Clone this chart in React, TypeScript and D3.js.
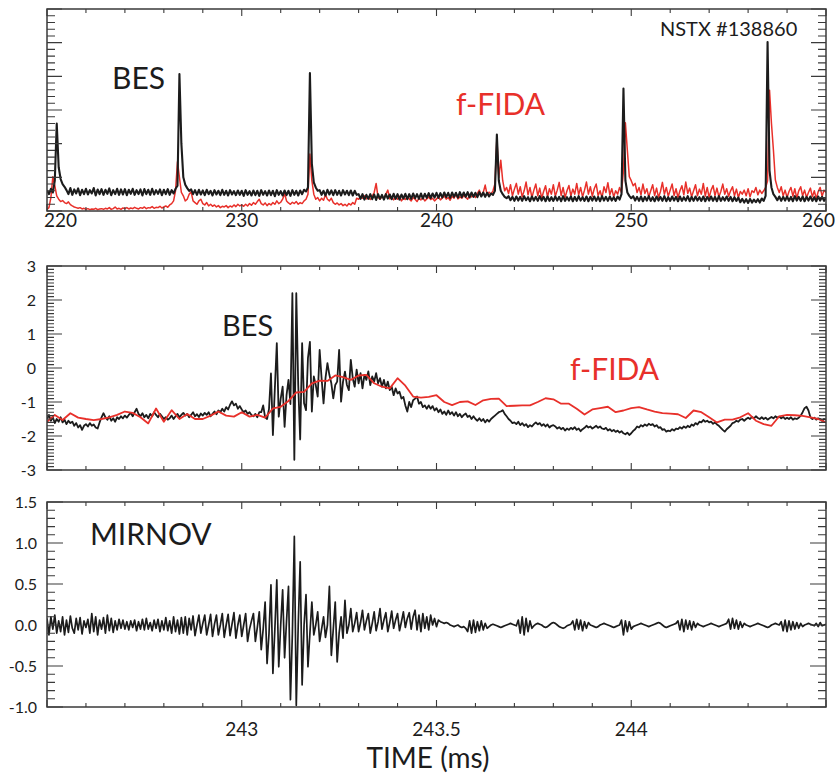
import React from 'react';
import * as d3 from 'd3';

const W = 835;
const H = 780;
const FONT = 'Lato, "Open Sans", "DejaVu Sans", sans-serif';
const RED = '#e8302a';
const INK = '#1c1c1c';
const AXIS = '#3a3a3a';

// ---------- Top panel: full shot, 220–260 ms, sampled every 0.1 ms ----------
const TOP_T0 = 220;
const TOP_DT = 0.1;
const topXTicks = [220, 230, 240, 250, 260];
const topBES = [
  0.62,0.5,0.66,0.55,0.9,2.6,1.3,0.95,0.8,0.72,0.62,0.5,0.68,0.48,0.64,0.52,0.67,0.47,0.63,0.5,
  0.66,0.49,0.62,0.52,0.68,0.46,0.64,0.5,0.65,0.48,0.63,0.51,0.67,0.47,0.62,0.5,0.66,0.48,0.64,0.49,
  0.65,0.47,0.63,0.51,0.66,0.48,0.62,0.5,0.64,0.46,0.65,0.5,0.63,0.48,0.66,0.49,0.62,0.51,0.64,0.47,
  0.63,0.5,0.65,0.48,0.62,0.52,0.66,0.75,4.07,2.0,1.0,0.78,0.68,0.6,0.64,0.5,0.62,0.48,0.63,0.49,
  0.61,0.47,0.63,0.5,0.6,0.46,0.62,0.49,0.6,0.47,0.63,0.48,0.6,0.46,0.62,0.49,0.59,0.47,0.61,0.48,
  0.6,0.45,0.62,0.48,0.59,0.46,0.61,0.47,0.6,0.45,0.62,0.48,0.59,0.46,0.61,0.47,0.6,0.44,0.62,0.48,
  0.59,0.46,0.61,0.47,0.6,0.45,0.62,0.48,0.6,0.46,0.61,0.5,0.63,0.58,0.7,4.1,1.4,0.85,0.7,0.6,
  0.62,0.48,0.6,0.46,0.63,0.49,0.61,0.47,0.62,0.48,0.6,0.46,0.62,0.49,0.6,0.47,0.61,0.46,0.6,0.48,
  0.5,0.36,0.5,0.34,0.48,0.36,0.5,0.35,0.49,0.33,0.5,0.36,0.48,0.34,0.5,0.37,0.49,0.35,0.51,0.36,
  0.5,0.34,0.49,0.37,0.51,0.35,0.5,0.36,0.52,0.38,0.5,0.36,0.52,0.37,0.51,0.39,0.53,0.38,0.52,0.4,
  0.54,0.39,0.53,0.4,0.55,0.41,0.54,0.39,0.55,0.42,0.54,0.4,0.56,0.41,0.55,0.42,0.56,0.4,0.55,0.42,
  0.54,0.41,0.56,0.43,0.55,0.42,0.54,0.43,0.52,0.48,0.6,2.27,0.9,0.6,0.5,0.42,0.38,0.44,0.32,0.42,
  0.3,0.43,0.31,0.42,0.3,0.44,0.32,0.41,0.29,0.43,0.31,0.42,0.3,0.44,0.31,0.42,0.29,0.43,0.3,0.41,
  0.3,0.43,0.31,0.42,0.29,0.44,0.3,0.41,0.31,0.43,0.29,0.42,0.3,0.44,0.31,0.41,0.3,0.43,0.29,0.42,
  0.31,0.43,0.3,0.42,0.29,0.44,0.31,0.42,0.3,0.43,0.31,0.41,0.3,0.43,0.34,0.5,3.64,0.9,0.55,0.45,
  0.38,0.44,0.31,0.42,0.3,0.43,0.29,0.42,0.31,0.44,0.3,0.41,0.29,0.43,0.31,0.42,0.3,0.44,0.29,0.41,
  0.3,0.43,0.31,0.42,0.29,0.43,0.3,0.41,0.31,0.44,0.29,0.42,0.3,0.43,0.31,0.41,0.3,0.43,0.29,0.42,
  0.31,0.43,0.3,0.42,0.29,0.44,0.3,0.41,0.31,0.43,0.3,0.42,0.29,0.41,0.3,0.4,0.26,0.36,0.25,0.35,
  0.24,0.36,0.25,0.34,0.26,0.35,0.25,0.37,0.3,0.45,5.02,1.2,0.7,0.5,0.42,0.32,0.43,0.3,0.42,0.31,
  0.43,0.3,0.42,0.29,0.44,0.31,0.42,0.3,0.43,0.29,0.42,0.31,0.43,0.3,0.41,0.29,0.43,0.31,0.42,0.3,
  0.4,
];
const topFIDA = [
  0.05,0.1,0.4,1.02,0.75,0.45,0.35,0.28,0.31,0.25,0.22,0.27,0.19,0.15,0.12,0.1,0.08,0.1,0.06,0.08,
  0.05,0.07,0.04,0.06,0.05,0.08,0.04,0.06,0.07,0.05,0.08,0.06,0.1,0.05,0.07,0.12,0.06,0.08,0.05,0.09,
  0.07,0.1,0.06,0.09,0.07,0.11,0.08,0.06,0.1,0.08,0.12,0.07,0.1,0.09,0.13,0.08,0.11,0.1,0.14,0.09,
  0.12,0.15,0.11,0.18,0.22,0.3,0.6,1.46,1.0,0.55,0.45,0.3,0.35,0.5,0.57,0.3,0.25,0.2,0.3,0.35,
  0.22,0.18,0.25,0.15,0.2,0.14,0.18,0.12,0.16,0.1,0.14,0.12,0.16,0.1,0.15,0.12,0.18,0.13,0.2,0.15,
  0.18,0.14,0.2,0.15,0.22,0.17,0.25,0.2,0.28,0.35,0.22,0.18,0.24,0.16,0.22,0.18,0.25,0.2,0.3,0.22,
  0.26,0.35,0.52,0.3,0.24,0.2,0.26,0.22,0.28,0.2,0.25,0.22,0.3,0.35,0.5,1.69,0.9,0.5,0.35,0.4,
  0.3,0.38,0.32,0.48,0.35,0.3,0.38,0.25,0.2,0.24,0.18,0.22,0.16,0.2,0.15,0.22,0.18,0.25,0.2,0.38,
  0.35,0.42,0.38,0.45,0.36,0.4,0.34,0.44,0.55,0.82,0.4,0.35,0.42,0.38,0.5,0.62,0.36,0.42,0.33,0.4,
  0.35,0.44,0.3,0.38,0.34,0.42,0.36,0.3,0.4,0.35,0.28,0.38,0.33,0.4,0.3,0.36,0.42,0.34,0.38,0.3,
  0.36,0.42,0.33,0.39,0.45,0.35,0.4,0.32,0.44,0.38,0.5,0.36,0.42,0.38,0.46,0.4,0.35,0.5,0.42,0.48,
  0.4,0.52,0.62,0.45,0.55,0.77,0.48,0.56,0.5,0.6,0.8,2.16,1.0,1.51,0.9,0.6,0.7,0.52,0.78,0.45,
  0.65,0.82,0.5,0.72,0.42,0.6,0.86,0.48,0.7,0.4,0.62,0.8,0.45,0.68,0.38,0.58,0.75,0.42,0.66,0.5,
  0.78,0.44,0.62,0.85,0.46,0.7,0.4,0.6,0.76,0.45,0.65,0.5,0.82,0.48,0.7,0.42,0.62,0.86,0.5,0.72,
  0.44,0.66,0.8,0.46,0.6,0.4,0.72,0.55,0.84,0.48,0.66,0.42,0.6,0.5,0.7,0.55,1.2,2.62,1.8,1.02,
  0.9,0.75,0.82,0.55,0.7,0.48,0.8,0.52,0.66,0.42,0.6,0.78,0.46,0.68,0.4,0.58,0.85,0.5,0.7,0.44,
  0.62,0.8,0.46,0.66,0.4,0.6,0.75,0.48,0.86,0.52,0.68,0.42,0.6,0.78,0.45,0.65,0.5,0.82,0.44,0.7,
  0.4,0.62,0.76,0.46,0.68,0.42,0.58,0.8,0.5,0.66,0.44,0.6,0.72,0.45,0.65,0.4,0.58,0.5,0.62,0.45,
  0.66,0.42,0.6,0.55,0.7,0.48,0.62,0.52,0.6,0.7,0.9,3.59,2.6,1.81,0.92,0.7,0.55,0.72,0.45,0.62,
  0.4,0.58,0.7,0.44,0.66,0.38,0.6,0.72,0.45,0.62,0.4,0.55,0.68,0.42,0.6,0.36,0.58,0.7,0.44,0.62,
  0.55,
];

// ---------- Zoomed panels: 242.5–244.5 ms ----------
const ZOOM_T0 = 242.5;
const ZOOM_DT = 0.005;
const FIDA_DT = 0.02;
const zoomXTicks = [243, 243.5, 244];
const midYTicks = [3, 2, 1, 0, -1, -2, -3];
const botYTicks = [1.5, 1.0, 0.5, 0.0, -0.5, -1.0];

const midBES = [
  -1.5,-1.38,-1.55,-1.45,-1.62,-1.5,-1.58,-1.45,-1.6,-1.52,
  -1.65,-1.55,-1.62,-1.58,-1.7,-1.62,-1.75,-1.68,-1.82,-1.7,
  -1.65,-1.72,-1.62,-1.7,-1.66,-1.75,-1.78,-1.6,-1.45,-1.33,
  -1.45,-1.52,-1.42,-1.55,-1.48,-1.58,-1.45,-1.5,-1.42,-1.48,
  -1.4,-1.46,-1.38,-1.32,-1.42,-1.3,-1.2,-1.35,-1.42,-1.33,
  -1.45,-1.38,-1.48,-1.35,-1.42,-1.3,-1.38,-1.45,-1.35,-1.42,
  -1.5,-1.45,-1.52,-1.48,-1.4,-1.5,-1.42,-1.35,-1.45,-1.38,
  -1.32,-1.4,-1.35,-1.45,-1.38,-1.3,-1.42,-1.36,-1.44,-1.34,
  -1.4,-1.32,-1.38,-1.3,-1.42,-1.35,-1.28,-1.36,-1.25,-1.3,
  -1.2,-1.28,-1.15,-1.22,-1.08,-0.98,-1.1,-1.05,-1.2,-1.12,
  -1.22,-1.3,-1.25,-1.35,-1.3,-1.38,-1.42,-1.35,-1.45,-1.3,
  -1.3,-1.1,-1.45,-1.5,-1.2,-0.16,-1.97,-0.6,0.73,-1.43,
  -0.9,-0.55,-1.73,-0.8,-0.35,-1.06,2.2,-2.7,2.2,-0.5,
  -2.1,0.73,-1.04,-1.24,0.3,0.77,-1.28,-0.25,-0.5,-0.84,
  0.53,-0.3,-1.04,-0.3,0.14,-0.2,-0.45,-0.89,-0.5,-0.4,
  0.53,-0.99,-0.4,-0.11,-0.5,-0.65,0.24,-0.3,-0.55,
  -0.05,-0.45,-0.15,-0.6,-0.2,-0.35,-0.1,-0.5,-0.25,-0.4,-0.15,-0.45,
  -0.3,-0.55,-0.35,-0.6,-0.4,-0.65,-0.55,-0.8,-0.6,-0.75,-0.7,-0.9,
  -0.85,-1.1,-1.28,-1.0,-1.15,-0.95,-0.9,-0.84,-1.05,-1.0,-1.15,-1.1,-1.2,
  -1.1,-1.2,-1.12,-1.25,-1.18,-1.3,-1.22,-1.35,-1.28,-1.38,-1.25,-1.36,-1.3,-1.4,-1.3,-1.42,-1.35,-1.45,-1.38,-1.34,-1.44,-1.4,-1.5,-1.42,-1.5,
  -1.55,-1.48,-1.56,-1.5,-1.6,-1.52,-1.58,-1.5,-1.45,-1.4,-1.35,-1.3,-1.28,-1.24,-1.35,-1.42,-1.5,-1.55,-1.62,-1.6,
  -1.65,-1.58,-1.68,-1.62,-1.7,-1.65,-1.74,-1.68,-1.72,-1.65,-1.6,-1.66,-1.62,-1.7,-1.65,-1.72,-1.66,-1.75,-1.7,-1.68,
  -1.72,-1.78,-1.74,-1.8,-1.76,-1.84,-1.78,-1.82,-1.76,-1.8,-1.74,-1.82,-1.78,-1.86,-1.8,-1.76,-1.7,-1.75,-1.72,-1.78,
  -1.74,-1.7,-1.76,-1.72,-1.78,-1.8,-1.76,-1.84,-1.8,-1.86,-1.82,-1.88,-1.84,-1.9,-1.86,-1.92,-1.95,-1.9,-1.97,-1.92,
  -1.85,-1.8,-1.72,-1.75,-1.68,-1.72,-1.66,-1.7,-1.64,-1.68,-1.65,-1.72,-1.68,-1.76,-1.74,-1.82,-1.8,-1.87,-1.84,-1.86,
  -1.8,-1.84,-1.78,-1.8,-1.74,-1.78,-1.72,-1.76,-1.7,-1.74,-1.66,-1.7,-1.62,-1.66,-1.58,-1.6,-1.53,-1.58,-1.55,-1.6,
  -1.58,-1.64,-1.6,-1.66,-1.7,-1.76,-1.82,-1.87,-1.8,-1.75,-1.7,-1.62,-1.6,-1.55,-1.58,-1.52,-1.5,-1.55,-1.5,-1.46,
  -1.5,-1.44,-1.48,-1.42,-1.47,-1.5,-1.45,-1.5,-1.46,-1.52,-1.48,-1.44,-1.48,-1.42,-1.46,-1.43,-1.48,-1.44,-1.5,-1.46,
  -1.5,-1.45,-1.52,-1.48,-1.5,-1.46,-1.4,-1.3,-1.18,-1.14,-1.25,-1.45,-1.5,-1.46,-1.52,-1.48,-1.5,-1.55,-1.5,-1.52,
];

const midFIDA = [
  -1.58,-1.38,-1.53,-1.33,-1.46,-1.5,-1.53,-1.5,-1.45,-1.38,
  -1.28,-1.32,-1.45,-1.63,-1.19,-1.58,-1.24,-1.5,-1.35,-1.5,
  -1.5,-1.4,-1.28,-1.4,-1.43,-1.3,-1.43,-1.38,-1.46,-1.19,
  -1.14,-0.97,-0.72,-0.7,-0.45,-0.37,-0.38,-0.22,-0.27,-0.35,
  -0.22,-0.2,-0.45,-0.55,-0.6,-0.3,-0.52,-0.84,-0.87,-0.85,
  -0.8,-1.0,-1.09,-1.0,-0.98,-1.09,-0.95,-0.91,-0.9,-1.12,
  -1.11,-1.1,-1.1,-1.0,-0.89,-0.92,-1.05,-1.05,-1.2,-1.37,
  -1.22,-1.18,-1.14,-1.3,-1.25,-1.18,-1.15,-1.22,-1.28,-1.33,
  -1.34,-1.36,-1.47,-1.25,-1.3,-1.45,-1.6,-1.52,-1.52,-1.45,
  -1.33,-1.55,-1.65,-1.7,-1.42,-1.38,-1.39,-1.41,-1.45,-1.5,
  -1.6,
];

const mirnov = [
  0.08,-0.12,0.1,-0.05,0.12,-0.1,0.05,-0.08,0.1,-0.12,
  0.06,-0.09,0.11,-0.04,-0.1,0.08,-0.06,0.09,-0.11,0.05,
  -0.03,0.07,-0.1,0.14,-0.08,0.1,-0.12,0.06,-0.05,0.09,
  -0.1,0.12,-0.07,0.08,-0.09,0.05,-0.06,0.07,-0.04,0.06,
  -0.05,0.04,-0.06,0.05,-0.03,0.06,-0.07,0.04,-0.05,0.07,
  -0.06,0.08,-0.05,0.03,-0.07,0.06,-0.04,0.07,-0.08,0.05,
  -0.06,0.09,-0.07,0.05,-0.1,0.1,-0.08,0.06,-0.11,0.09,
  -0.1,0.1,-0.12,0.08,-0.06,
  0.11,-0.13,0.0, 0.12,-0.1,0.02, 0.12,-0.12,0.0, 0.13,-0.14,0.01,
  0.12,-0.12,0.0, 0.14,-0.15,0.0, 0.13,-0.13,0.01, 0.15,-0.16,0.0,
  0.12,-0.14,0.0, 0.14,-0.2,-0.05,0.05,
  0.14,-0.2,-0.03, 0.16,-0.3,-0.05, 0.28,-0.47,-0.1, 0.49,-0.59,-0.05,
  0.55,-0.51,0.0, 0.43,-0.4,0.05, 0.47,-0.91,-0.1, 1.08,-0.98,0.0,
  0.77,-0.73,0.0, 0.37,-0.51,-0.1, 0.28,-0.12,0.0, 0.16,-0.2,-0.05,
  0.1,-0.15,0.0, 0.47,-0.37,-0.05, 0.28,-0.45,-0.1,
  0.1,-0.16,0.3,-0.1,0.0, 0.2,-0.08,0.02,
  0.15,-0.08,0.03, 0.18,-0.06,0.05, 0.14,-0.1,0.02, 0.16,-0.07,0.04,
  0.2,-0.05,0.06, 0.15,-0.08,0.03, 0.17,-0.04,0.06, 0.14,-0.07,0.04,
  0.16,-0.03,0.08, 0.15,-0.05,0.1, 0.18,-0.06,0.12,
  -0.08,0.14,-0.04,0.1,-0.06,0.12,0.0,0.08,-0.02,0.06,
  0.04,0.03,0.02,0.03,0.02,0.0,-0.01,-0.02,-0.01,0.0,-0.02,-0.03,-0.02,-0.04,
  -0.08,0.05,-0.1,0.06,-0.09,0.04,-0.07,0.05,-0.06,0.02,-0.04,
  -0.02,0.0,0.01,0.0,-0.01,-0.02,-0.03,-0.02,-0.01,0.0,0.01,0.02,0.01,0.0,-0.01,
  0.06,-0.1,0.1,-0.12,0.08,-0.08,0.05,-0.04,
  -0.01,0.01,0.02,0.01,0.0,-0.02,-0.03,-0.02,0.0,0.02,0.03,0.02,0.0,-0.02,-0.03,-0.04,-0.03,-0.01,0.0,0.01,
  0.05,-0.06,0.07,-0.05,0.06,-0.07,0.04,-0.04,0.03,
  0.0,-0.01,-0.02,-0.03,-0.02,0.0,0.01,0.02,0.01,0.0,-0.01,-0.02,-0.03,-0.02,-0.01,0.0,
  0.06,-0.12,0.05,-0.08,0.04,-0.05,
  -0.02,-0.01,0.0,0.01,0.02,0.01,0.0,-0.01,-0.02,-0.01,0.0,0.01,0.02,0.03,0.02,0.0,-0.02,-0.03,-0.02,-0.01,0.0,0.01,0.02,
  0.05,-0.06,0.07,-0.08,0.06,-0.05,0.05,-0.06,0.04,-0.03,0.02,
  0.0,-0.01,-0.02,-0.01,0.0,0.01,0.02,0.01,0.0,-0.01,-0.02,-0.01,0.0,0.01,0.02,
  0.07,-0.05,0.08,-0.04,0.06,-0.05,0.04,-0.03,0.02,
  0.0,-0.01,-0.02,-0.01,0.0,0.01,0.02,0.01,0.0,-0.01,-0.02,-0.03,-0.02,0.0,0.01,0.02,0.01,0.0,
  0.04,-0.07,0.06,-0.08,0.05,-0.06,0.04,-0.05,0.03,-0.04,0.02,-0.02,
  0.0,0.01,0.02,0.01,0.0,-0.01,0.02,-0.02,0.03,-0.01,0.0,0.01,
];

// ---------- layout ----------
const X0 = 47;
const X1 = 826;
const panels = {
  top: { y0: 9, y1: 211 },
  mid: { y0: 266, y1: 470 },
  bot: { y0: 502, y1: 707 },
};

type TickSpec = { major: number[]; minor: number[]; majorLen: number; minorLen: number };

function Frame({ x, y, xt, yt }: { x: d3.ScaleLinear<number, number>; y: d3.ScaleLinear<number, number>; xt: TickSpec; yt: TickSpec }) {
  const [xa, xb] = x.range();
  const [yb, ya] = y.range();
  const segs: string[] = [];
  xt.minor.forEach((v) => {
    const px = x(v);
    segs.push(`M${px},${ya}v${xt.minorLen}M${px},${yb}v${-xt.minorLen}`);
  });
  xt.major.forEach((v) => {
    const px = x(v);
    segs.push(`M${px},${ya}v${xt.majorLen}M${px},${yb}v${-xt.majorLen}`);
  });
  yt.minor.forEach((v) => {
    const py = y(v);
    segs.push(`M${xa},${py}h${yt.minorLen}M${xb},${py}h${-yt.minorLen}`);
  });
  yt.major.forEach((v) => {
    const py = y(v);
    segs.push(`M${xa},${py}h${yt.majorLen}M${xb},${py}h${-yt.majorLen}`);
  });
  return (
    <g>
      <path d={segs.join('')} stroke={AXIS} strokeWidth={1.1} fill="none" />
      <rect x={xa} y={ya} width={xb - xa} height={yb - ya} fill="none" stroke={AXIS} strokeWidth={1.5} />
    </g>
  );
}

export default function App() {
  const xTop = d3.scaleLinear().domain([220, 260]).range([X0, X1]);
  const yTop = d3.scaleLinear().domain([0, 6]).range([panels.top.y1, panels.top.y0]);
  const xZoom = d3.scaleLinear().domain([242.5, 244.5]).range([X0, X1]);
  const yMid = d3.scaleLinear().domain([-3, 3]).range([panels.mid.y1, panels.mid.y0]);
  const yBot = d3.scaleLinear().domain([-1, 1.5]).range([panels.bot.y1, panels.bot.y0]);

  const topLine = (arr: number[]) =>
    d3.line<number>().x((_, i) => xTop(TOP_T0 + i * TOP_DT)).y((d) => yTop(d))(arr) || '';
  const zoomLine = (arr: number[], dt: number, ys: d3.ScaleLinear<number, number>) =>
    d3.line<number>().x((_, i) => xZoom(ZOOM_T0 + i * dt)).y((d) => ys(d))(arr) || '';

  const topXT: TickSpec = { major: xTop.ticks(4), minor: xTop.ticks(20), majorLen: 7, minorLen: 4 };
  const topYT: TickSpec = { major: yTop.ticks(6), minor: yTop.ticks(30), majorLen: 15, minorLen: 8 };
  const zoomXT: TickSpec = { major: xZoom.ticks(4), minor: xZoom.ticks(20), majorLen: 7, minorLen: 4 };
  const midYT: TickSpec = { major: yMid.ticks(6), minor: yMid.ticks(60), majorLen: 15, minorLen: 7 };
  const botYT: TickSpec = { major: yBot.ticks(5), minor: yBot.ticks(25), majorLen: 16, minorLen: 8 };

  return (
    <svg width={W} height={H} style={{ position: 'absolute', left: 0, top: 0, background: '#fff' }} fontFamily={FONT}>
      <defs>
        <clipPath id="cTop"><rect x={X0} y={panels.top.y0} width={X1 - X0} height={panels.top.y1 - panels.top.y0} /></clipPath>
        <clipPath id="cMid"><rect x={X0} y={panels.mid.y0} width={X1 - X0} height={panels.mid.y1 - panels.mid.y0} /></clipPath>
        <clipPath id="cBot"><rect x={X0} y={panels.bot.y0} width={X1 - X0} height={panels.bot.y1 - panels.bot.y0} /></clipPath>
      </defs>
      <rect x={0} y={0} width={W} height={H} fill="#fff" />

      {/* top panel */}
      <g clipPath="url(#cTop)">
        <path d={topLine(topFIDA)} fill="none" stroke={RED} strokeWidth={1.5} strokeLinejoin="round" />
        <path d={topLine(topBES)} fill="none" stroke={INK} strokeWidth={2.1} strokeLinejoin="round" />
      </g>
      <Frame x={xTop} y={yTop} xt={topXT} yt={topYT} />
      {topXTicks.map((t, i) => (
        <text key={t} x={i === 0 ? X0 - 3 : i === topXTicks.length - 1 ? W : xTop(t)} y={227} fontSize={19}
          textAnchor={i === 0 ? 'start' : i === topXTicks.length - 1 ? 'end' : 'middle'} fill={INK}>{t}</text>
      ))}
      <text x={112} y={89} fontSize={30} fill={INK}>BES</text>
      <text x={456} y={115} fontSize={30} fill={RED}>f-FIDA</text>
      <text x={660} y={36} fontSize={20} fill={INK}>NSTX #138860</text>

      {/* middle panel */}
      <g clipPath="url(#cMid)">
        <path d={zoomLine(midBES, ZOOM_DT, yMid)} fill="none" stroke={INK} strokeWidth={1.8} strokeLinejoin="round" />
        <path d={zoomLine(midFIDA, FIDA_DT, yMid)} fill="none" stroke={RED} strokeWidth={1.8} strokeLinejoin="round" />
      </g>
      <Frame x={xZoom} y={yMid} xt={zoomXT} yt={midYT} />
      {midYTicks.map((v) => (
        <text key={v} x={36} y={yMid(v)} dy="0.35em" fontSize={16} textAnchor="end" fill={INK}>{v}</text>
      ))}
      <text x={222} y={336} fontSize={29} fill={INK}>BES</text>
      <text x={570} y={380} fontSize={30} fill={RED}>f-FIDA</text>

      {/* bottom panel */}
      <g clipPath="url(#cBot)">
        <path d={zoomLine(mirnov, ZOOM_DT, yBot)} fill="none" stroke={INK} strokeWidth={1.7} strokeLinejoin="round" />
      </g>
      <Frame x={xZoom} y={yBot} xt={zoomXT} yt={botYT} />
      {botYTicks.map((v) => (
        <text key={v} x={37} y={yBot(v)} dy="0.35em" fontSize={16} textAnchor="end" fill={INK}>{v.toFixed(1)}</text>
      ))}
      {zoomXTicks.map((t) => (
        <text key={t} x={xZoom(t)} y={736} fontSize={19} textAnchor="middle" fill={INK}>{t}</text>
      ))}
      <text x={90} y={545} fontSize={30} fill={INK}>MIRNOV</text>
      <text x={428} y={768} fontSize={28} textAnchor="middle" fill={INK}>TIME (ms)</text>
    </svg>
  );
}
